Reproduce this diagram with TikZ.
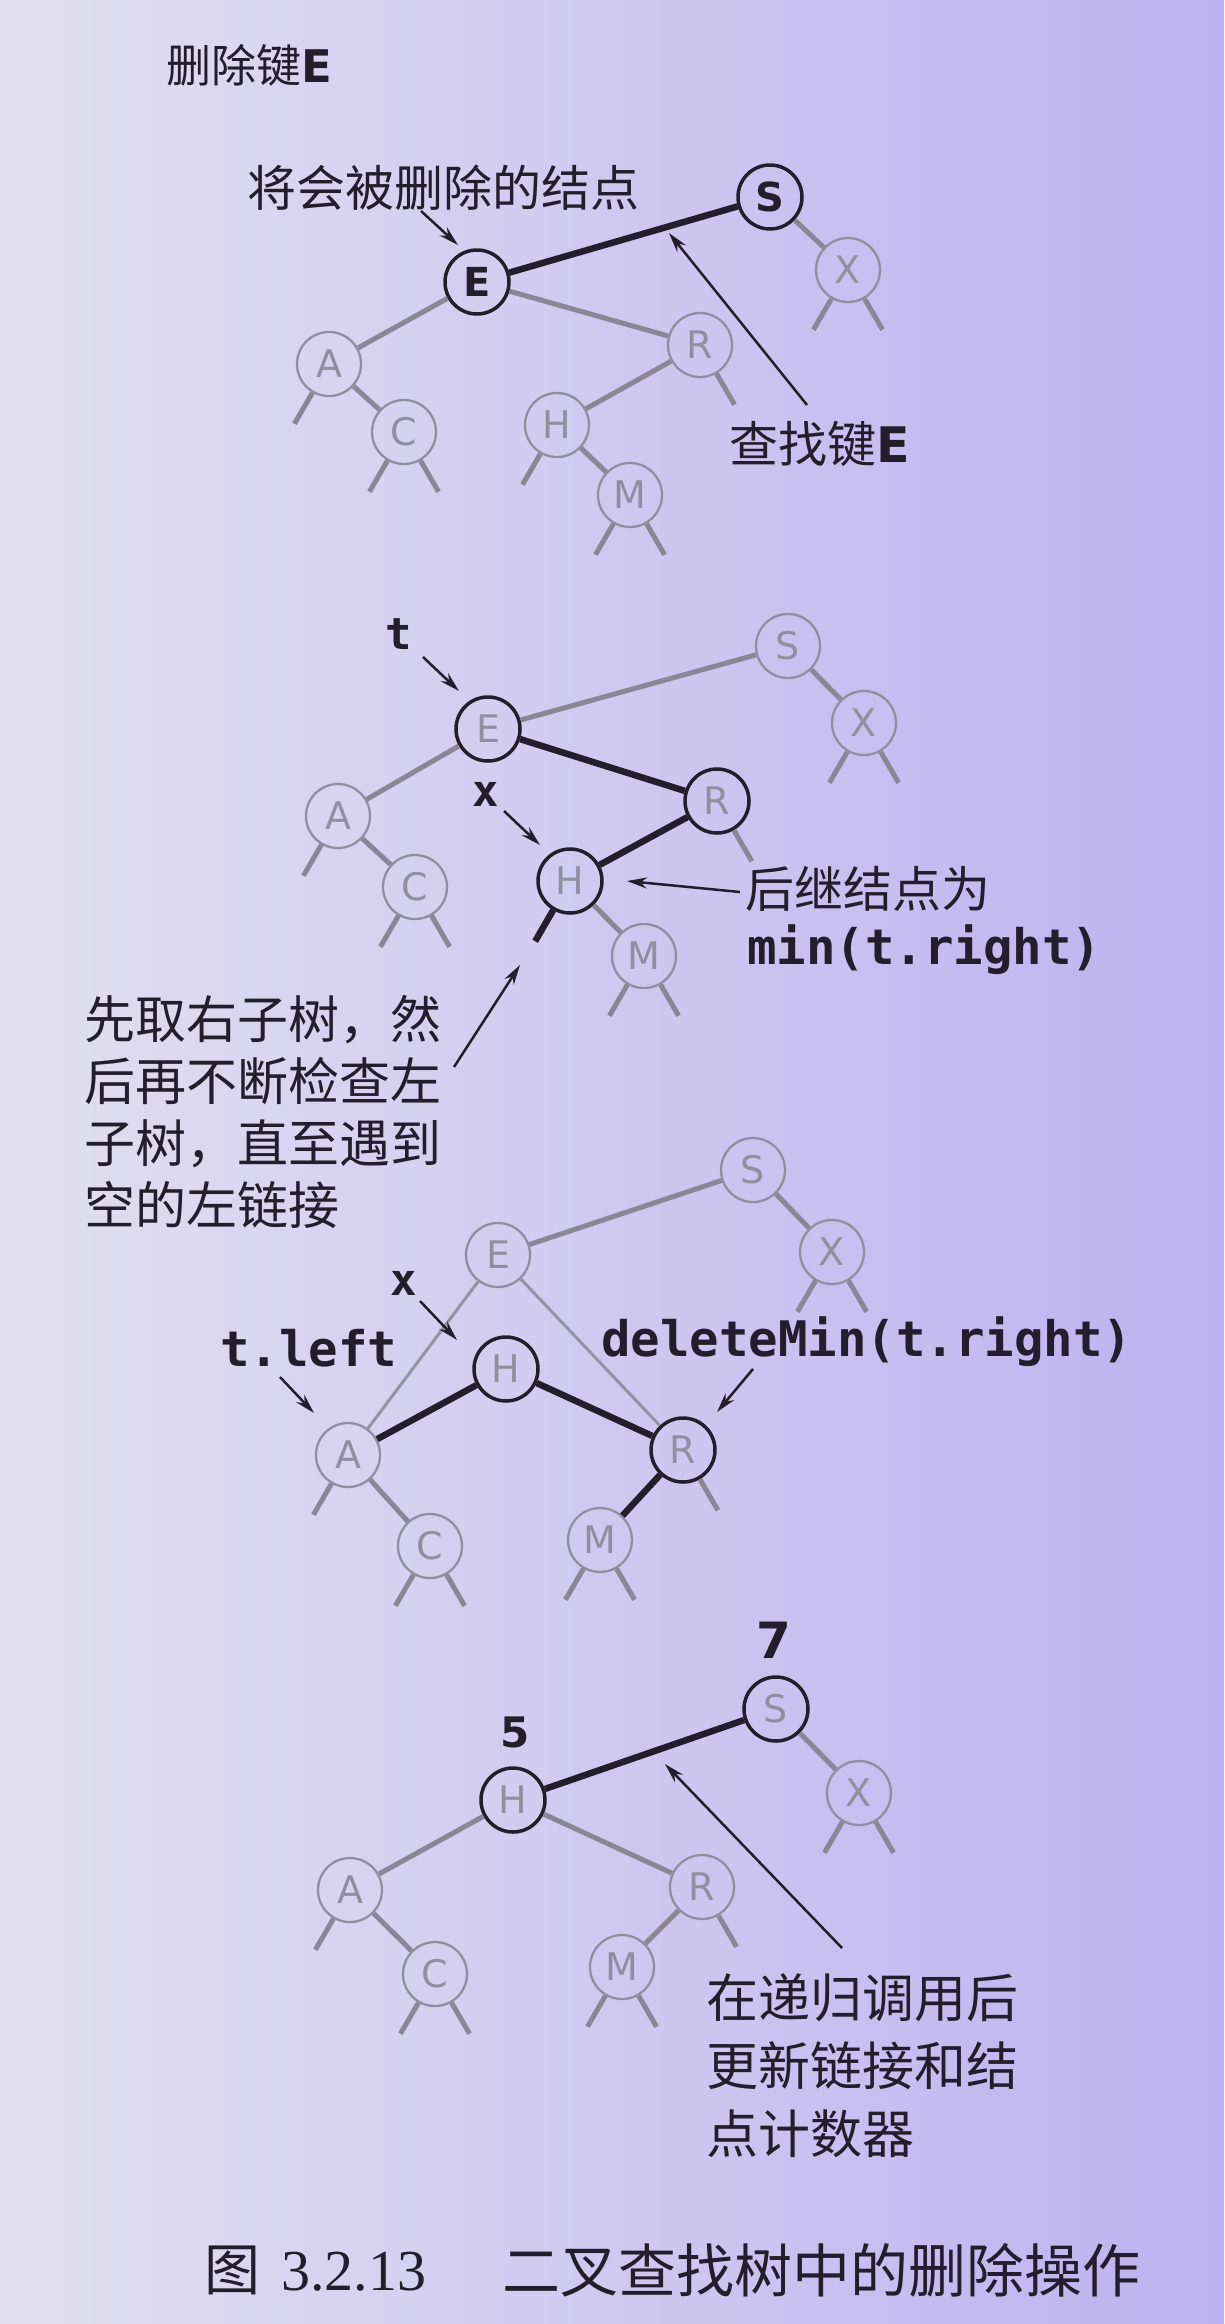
\documentclass[tikz,border=0pt]{standalone}
\usepackage{fontspec}
\usetikzlibrary{arrows.meta}
\newfontfamily\cjk{Noto Sans CJK SC}
\newfontfamily\lsans{DejaVu Sans}
\newfontfamily\mono{DejaVu Sans Mono}
\newfontfamily\tser{Liberation Serif}
\definecolor{bcol}{RGB}{35,30,45}
\definecolor{gcol}{RGB}{138,134,152}
\definecolor{ncol}{RGB}{146,142,162}
\definecolor{lgcol}{RGB}{150,146,165}
\definecolor{bgl}{RGB}{226,224,240}
\definecolor{bgr}{RGB}{188,178,240}
\newcommand{\leftstub}[2][glink]{\draw[#1] (#2.240) -- ++(-18,31);}
\newcommand{\rightstub}[2][glink]{\draw[#1] (#2.300) -- ++(18,31);}
\begin{document}
\begin{tikzpicture}[x=1pt,y=-1pt,
  gnode/.style={circle,draw=ncol,line width=2.3pt,minimum size=64pt,inner sep=0pt,text=ncol,font=\fontsize{38}{38}\selectfont\lsans},
  bnode/.style={gnode,draw=bcol,line width=3.5pt},
  bbnode/.style={bnode,text=bcol,font=\fontsize{40}{40}\selectfont\lsans\bfseries},
  glink/.style={draw=gcol,line width=5pt},
  blink/.style={draw=bcol,line width=6.5pt},
  tlink/.style={draw=lgcol,line width=3pt},
  arr/.style={draw=bcol,line width=2.5pt,-{Stealth[length=20pt,width=11pt]}},
  cjktext/.style={inner sep=0pt,text=bcol,font=\fontsize{49}{60}\selectfont\cjk},
  monotext/.style={inner sep=0pt,text=bcol,font=\fontsize{49}{49}\selectfont\mono\bfseries},
  numtext/.style={inner sep=0pt,text=bcol,font=\fontsize{44}{44}\selectfont\lsans\bfseries},
]
\shade[left color=bgl,right color=bgr] (0,0) rectangle (1224,2324);

% ---------- Diagram 1 ----------
\node[cjktext,anchor=west,font=\fontsize{45}{45}\selectfont\cjk] (title) at (166,65) {删除键{\lsans\bfseries E}};
\node[cjktext] (lab1) at (443,188) {将会被删除的结点};
\node[bbnode] (S1) at (770,197) {S};
\node[bbnode] (E1) at (477,282) {E};
\node[gnode] (X1) at (848,270) {X};
\node[gnode] (R1) at (700,345) {R};
\node[gnode] (A1) at (329,364) {A};
\node[gnode] (C1) at (404,432) {C};
\node[gnode] (H1) at (557,425) {H};
\node[gnode] (M1) at (630,495) {M};
\draw[blink] (E1) -- (S1);
\draw[glink] (S1) -- (X1);
\draw[glink] (E1) -- (A1);
\draw[glink] (E1) -- (R1);
\draw[glink] (A1) -- (C1);
\draw[glink] (R1) -- (H1);
\draw[glink] (H1) -- (M1);
\leftstub{A1}
\leftstub{C1}\rightstub{C1}
\leftstub{H1}
\leftstub{M1}\rightstub{M1}
\rightstub{R1}
\leftstub{X1}\rightstub{X1}
\coordinate (a1t) at (421,211);
\coordinate (a1h) at (458,245);
\draw[arr] (a1t) -- (a1h);
\node[cjktext,anchor=west] (lab2) at (729,444) {查找键{\lsans\bfseries E}};
\coordinate (a2t) at (807,405);
\coordinate (a2h) at (669,233);
\draw[arr] (a2t) -- (a2h);

% ---------- Diagram 2 ----------
\node[monotext,font=\fontsize{44}{44}\selectfont\mono\bfseries] (t2) at (399,634) {t};
\node[bnode] (E2) at (488,729) {E};
\node[gnode] (S2) at (788,646) {S};
\node[gnode] (X2) at (864,723) {X};
\node[bnode] (R2) at (717,801) {R};
\node[gnode] (A2) at (338,816) {A};
\node[gnode] (C2) at (415,887) {C};
\node[bnode] (H2) at (570,881) {H};
\node[gnode] (M2) at (644,956) {M};
\draw[glink] (E2) -- (S2);
\draw[glink] (S2) -- (X2);
\draw[glink] (E2) -- (A2);
\draw[glink] (A2) -- (C2);
\draw[glink] (H2) -- (M2);
\draw[blink] (E2) -- (R2);
\draw[blink] (R2) -- (H2);
\leftstub{A2}
\leftstub{C2}\rightstub{C2}
\leftstub[blink]{H2}
\leftstub{M2}\rightstub{M2}
\rightstub{R2}
\leftstub{X2}\rightstub{X2}
\coordinate (b1t) at (423,657);
\coordinate (b1h) at (459,691);
\draw[arr] (b1t) -- (b1h);
\node[monotext,font=\fontsize{44}{44}\selectfont\mono\bfseries] (x2) at (486,794) {x};
\coordinate (b2t) at (504,811);
\coordinate (b2h) at (540,845);
\draw[arr] (b2t) -- (b2h);
\node[cjktext,anchor=west] (succ1) at (745,889) {后继结点为};
\node[monotext,anchor=west] (succ2) at (747,950) {min(t.right)};
\coordinate (b3t) at (740,892);
\coordinate (b3h) at (627,881);
\draw[arr] (b3t) -- (b3h);
\node[cjktext,anchor=west,align=left,font=\fontsize{51}{62}\selectfont\cjk] (expl) at (84,1112) {先取右子树，然\\后再不断检查左\\子树，直至遇到\\空的左链接};
\coordinate (b4t) at (454,1067);
\coordinate (b4h) at (520,965);
\draw[arr] (b4t) -- (b4h);

% ---------- Diagram 3 ----------
\node[gnode] (S3) at (753,1170) {S};
\node[gnode] (E3) at (498,1255) {E};
\node[gnode] (X3) at (832,1252) {X};
\node[bnode] (H3) at (506,1369) {H};
\node[gnode] (A3) at (348,1455) {A};
\node[bnode] (R3) at (683,1450) {R};
\node[gnode] (C3) at (430,1546) {C};
\node[gnode] (M3) at (600,1540) {M};
\draw[glink] (E3) -- (S3);
\draw[glink] (S3) -- (X3);
\draw[glink] (A3) -- (C3);
\draw[tlink] (E3) -- (A3);
\draw[tlink] (E3) -- (R3);
\draw[blink] (A3) -- (H3);
\draw[blink] (H3) -- (R3);
\draw[blink] (R3) -- (M3);
\leftstub{A3}
\leftstub{C3}\rightstub{C3}
\leftstub{M3}\rightstub{M3}
\rightstub{R3}
\leftstub{X3}\rightstub{X3}
\node[monotext,font=\fontsize{44}{44}\selectfont\mono\bfseries] (x3) at (404,1283) {x};
\coordinate (c1t) at (420,1301);
\coordinate (c1h) at (457,1340);
\draw[arr] (c1t) -- (c1h);
\node[monotext] (tleft) at (309,1348) {t.left};
\coordinate (c2t) at (280,1377);
\coordinate (c2h) at (314,1413);
\draw[arr] (c2t) -- (c2h);
\node[monotext,anchor=west] (dmin) at (601,1342) {deleteMin(t.right)};
\coordinate (c3t) at (753,1369);
\coordinate (c3h) at (717,1412);
\draw[arr] (c3t) -- (c3h);

% ---------- Diagram 4 ----------
\node[numtext,font=\fontsize{50}{50}\selectfont\lsans\bfseries] (n7) at (774,1640) {7};
\node[numtext,font=\fontsize{42}{42}\selectfont\lsans\bfseries] (n5) at (515,1732) {5};
\node[bnode] (S4) at (776,1709) {S};
\node[bnode] (H4) at (513,1800) {H};
\node[gnode] (X4) at (859,1793) {X};
\node[gnode] (A4) at (350,1890) {A};
\node[gnode] (R4) at (702,1887) {R};
\node[gnode] (C4) at (435,1974) {C};
\node[gnode] (M4) at (622,1967) {M};
\draw[blink] (H4) -- (S4);
\draw[glink] (S4) -- (X4);
\draw[glink] (H4) -- (A4);
\draw[glink] (H4) -- (R4);
\draw[glink] (A4) -- (C4);
\draw[glink] (R4) -- (M4);
\leftstub{A4}
\leftstub{C4}\rightstub{C4}
\leftstub{M4}\rightstub{M4}
\rightstub{R4}
\leftstub{X4}\rightstub{X4}
\coordinate (d1t) at (842,1948);
\coordinate (d1h) at (665,1764);
\draw[arr] (d1t) -- (d1h);
\node[cjktext,anchor=west,align=left,font=\fontsize{52}{68}\selectfont\cjk] (upd) at (706,2066) {在递归调用后\\更新链接和结\\点计数器};

% ---------- Caption ----------
\node[cjktext,anchor=west,font=\fontsize{56}{56}\selectfont\cjk] (capfig) at (204,2270) {图};
\node[inner sep=0pt,anchor=west,text=bcol,font=\fontsize{58}{58}\selectfont\tser] (capnum) at (281,2272) {3.2.13};
\node[cjktext,anchor=west,font=\fontsize{58}{58}\selectfont\cjk] (captxt) at (502,2270) {二叉查找树中的删除操作};
\end{tikzpicture}
\end{document}
